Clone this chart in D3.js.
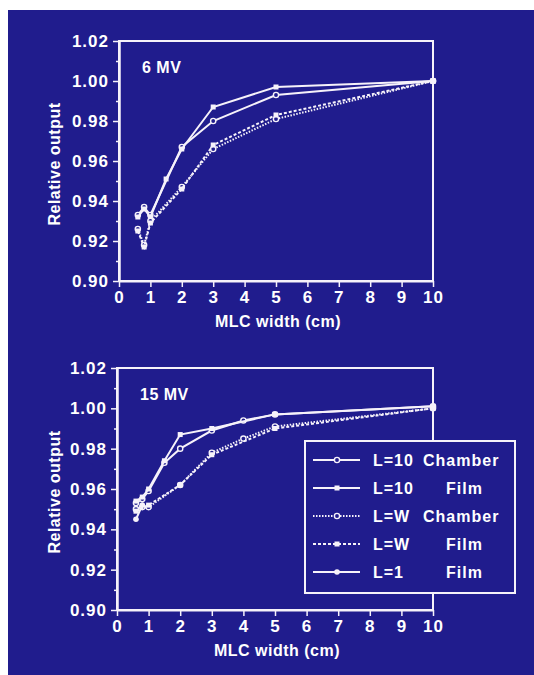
<!DOCTYPE html>
<html>
<head>
<meta charset="utf-8">
<script src="https://cdn.jsdelivr.net/npm/d3@7"></script>
<style>
  html, body { margin: 0; padding: 0; background: #ffffff; }
  svg { display: block; }
  text { font-family: "Liberation Sans", Arial, sans-serif; font-weight: bold; fill: #ffffff; }
</style>
</head>
<body>
<script>
// ---- data ----
var seriesNames = ['L=10 Chamber', 'L=10 Film', 'L=W Chamber', 'L=W Film', 'L=1 Film'];
var legendLeft  = ['L=10', 'L=10', 'L=W', 'L=W', 'L=1'];
var legendRight = ['Chamber', 'Film', 'Chamber', 'Film', 'Film'];

var xTicks = [0, 1, 2, 3, 4, 5, 6, 7, 8, 9, 10];
var yTicks = [0.90, 0.92, 0.94, 0.96, 0.98, 1.00, 1.02];
var yMinor = [0.91, 0.93, 0.95, 0.97, 0.99, 1.01];

// 6 MV
var w6_l10c = [0.6, 0.8, 1, 2, 3, 5, 10];
var v6_l10c = [0.933, 0.937, 0.933, 0.967, 0.980, 0.993, 1.000];
var w6_l10f = [0.6, 0.8, 1, 1.5, 2, 3, 5, 10];
var v6_l10f = [0.932, 0.936, 0.932, 0.951, 0.966, 0.987, 0.997, 1.000];
var w6_lwc  = [0.6, 0.8, 1, 2, 3, 5, 10];
var v6_lwc  = [0.926, 0.918, 0.930, 0.947, 0.966, 0.981, 1.000];
var w6_lwf  = [0.6, 0.8, 1, 2, 3, 5, 10];
var v6_lwf  = [0.925, 0.917, 0.929, 0.946, 0.968, 0.983, 1.000];

// 15 MV
var w15_l10c = [0.6, 0.8, 1, 1.5, 2, 3, 4, 5, 10];
var v15_l10c = [0.953, 0.955, 0.959, 0.973, 0.980, 0.989, 0.994, 0.997, 1.001];
var w15_l10f = [0.6, 0.8, 1, 1.5, 2, 3, 5, 10];
var v15_l10f = [0.954, 0.956, 0.960, 0.974, 0.987, 0.990, 0.997, 1.001];
var w15_lwc  = [0.6, 0.8, 1, 2, 3, 4, 5, 10];
var v15_lwc  = [0.950, 0.951, 0.951, 0.962, 0.978, 0.985, 0.991, 1.000];
var w15_lwf  = [0.6, 1, 2, 3, 5, 10];
var v15_lwf  = [0.949, 0.952, 0.962, 0.977, 0.990, 1.000];
var w15_l1f  = [0.6, 0.8];
var v15_l1f  = [0.945, 0.952];

function zip(ws, vs) {
  return ws.map(function(w, i) { return {w: w, v: vs[i]}; });
}

// line / marker style per series
var styles = [
  {dash: null,   marker: 'circle-open'},
  {dash: null,   marker: 'square'},
  {dash: '1.5,1.5', marker: 'circle-open'},
  {dash: '3,2',  marker: 'square'},
  {dash: null,   marker: 'circle'}
];

var panels = [
  {label: '6 MV', left: 119, right: 433, top: 41, bottom: 281,
   series: [zip(w6_l10c, v6_l10c), zip(w6_l10f, v6_l10f), zip(w6_lwc, v6_lwc), zip(w6_lwf, v6_lwf), null],
   legend: false},
  {label: '15 MV', left: 117, right: 433, top: 368, bottom: 610,
   series: [zip(w15_l10c, v15_l10c), zip(w15_l10f, v15_l10f), zip(w15_lwc, v15_lwc), zip(w15_lwf, v15_lwf), zip(w15_l1f, v15_l1f)],
   legend: true}
];

var width = 534;
var height = 675;
var bg = '#201c8d';
var fg = '#f6f2fa';

var svg = d3.select('body')
  .append('svg')
    .attr('width', width)
    .attr('height', height);

svg.append('rect')
  .attr('x', 8).attr('y', 10)
  .attr('width', width - 8).attr('height', height - 10)
  .attr('fill', bg);

function drawMarker(g, type, x, y) {
  if (type === 'square') {
    g.append('rect').attr('x', x - 2.5).attr('y', y - 2.5)
      .attr('width', 5).attr('height', 5).attr('fill', fg);
  } else if (type === 'circle') {
    g.append('circle').attr('cx', x).attr('cy', y).attr('r', 2.8).attr('fill', fg);
  } else {
    g.append('circle').attr('cx', x).attr('cy', y).attr('r', 2.6)
      .attr('fill', bg).attr('stroke', fg).attr('stroke-width', 1.4);
  }
}

panels.forEach(function(p) {
  var x = d3.scaleLinear().domain([0, 10]).range([p.left, p.right]);
  var y = d3.scaleLinear().domain([0.90, 1.02]).range([p.bottom, p.top]);
  var g = svg.append('g');

  // frame
  g.append('rect')
    .attr('x', p.left).attr('y', p.top)
    .attr('width', p.right - p.left).attr('height', p.bottom - p.top)
    .attr('fill', 'none').attr('stroke', fg).attr('stroke-width', 2);

  // axes
  var yAxis = d3.axisLeft(y).tickValues(yTicks).tickSize(6).tickSizeOuter(0)
    .tickPadding(4).tickFormat(d3.format('.2f'));
  var yMinorAxis = d3.axisLeft(y).tickValues(yMinor).tickSize(3).tickSizeOuter(0).tickFormat('');
  var xAxis = d3.axisBottom(x).tickValues(xTicks).tickSize(6).tickSizeOuter(0).tickPadding(4);

  [g.append('g').attr('transform', 'translate(' + p.left + ',0)').call(yAxis),
   g.append('g').attr('transform', 'translate(' + p.left + ',0)').call(yMinorAxis),
   g.append('g').attr('transform', 'translate(0,' + p.bottom + ')').call(xAxis)]
    .forEach(function(a) {
      a.select('.domain').attr('stroke', fg).attr('stroke-width', 2);
      a.selectAll('.tick line').attr('stroke', fg).attr('stroke-width', 1.5);
      a.selectAll('.tick text')
        .attr('fill', fg)
        .style('font-family', '"Liberation Sans", Arial, sans-serif')
        .style('font-weight', 'bold')
        .style('font-size', '17px')
        .style('letter-spacing', '1px');
    });

  // axis titles
  g.append('text')
    .attr('x', (p.left + p.right) / 2 + 2).attr('y', p.bottom + 46)
    .attr('text-anchor', 'middle')
    .style('font-size', '16px').style('letter-spacing', '0.5px')
    .text('MLC width (cm)');
  g.append('text')
    .attr('transform', 'translate(60,' + ((p.top + p.bottom) / 2 + 3) + ') rotate(-90)')
    .attr('text-anchor', 'middle')
    .style('font-size', '16px').style('letter-spacing', '0.5px')
    .text('Relative output');

  // panel label
  g.append('text')
    .attr('x', p.left + 23).attr('y', p.top + 32)
    .style('font-size', '16px').style('letter-spacing', '0.5px')
    .text(p.label);

  // series
  var line = d3.line().x(function(d) { return x(d.w); }).y(function(d) { return y(d.v); });
  p.series.forEach(function(s, i) {
    if (!s) return;
    var st = styles[i];
    g.append('path')
      .datum(s)
      .attr('d', line)
      .attr('fill', 'none')
      .attr('stroke', fg)
      .attr('stroke-width', 2)
      .attr('stroke-dasharray', st.dash);
    s.forEach(function(d) { drawMarker(g, st.marker, x(d.w), y(d.v)); });
  });

  // legend
  if (p.legend) {
    var lg = g.append('g');
    lg.append('rect')
      .attr('x', 305).attr('y', 441).attr('width', 210).attr('height', 152)
      .attr('fill', bg).attr('stroke', fg).attr('stroke-width', 2);
    var rowY = d3.scalePoint().domain(d3.range(seriesNames.length)).range([460, 572]);
    seriesNames.forEach(function(name, i) {
      var yy = rowY(i);
      lg.append('line')
        .attr('x1', 313).attr('x2', 360).attr('y1', yy).attr('y2', yy)
        .attr('stroke', fg).attr('stroke-width', 2)
        .attr('stroke-dasharray', styles[i].dash);
      drawMarker(lg, styles[i].marker, 337, yy);
      lg.append('text')
        .attr('x', 373).attr('y', yy + 6)
        .style('font-size', '16px').style('letter-spacing', '1px')
        .text(legendLeft[i]);
      lg.append('text')
        .attr('x', legendRight[i] === 'Chamber' ? 423 : 446).attr('y', yy + 6)
        .style('font-size', '16px').style('letter-spacing', '1px')
        .text(legendRight[i]);
    });
  }
});
</script>
</body>
</html>
